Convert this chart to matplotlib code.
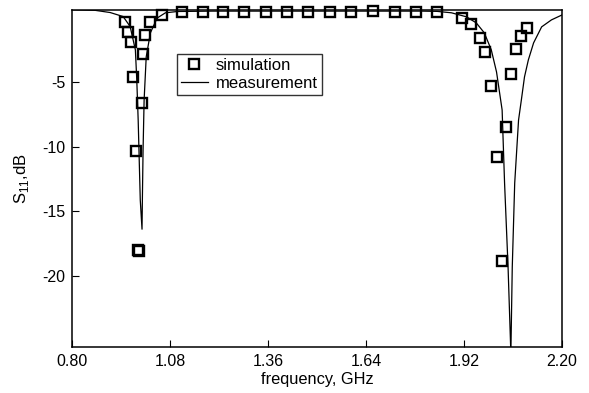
import numpy as np
import matplotlib
matplotlib.use("Agg")
import matplotlib.pyplot as plt

plt.rcParams['font.family'] = ['Liberation Sans', 'DejaVu Sans']

# simulation points (GHz, dB)
sim_freq = [0.951, 0.958, 0.968, 0.973, 0.982, 0.988, 0.990, 0.999, 1.003, 1.008, 1.021, 1.056,
            1.112, 1.172, 1.232, 1.292, 1.353, 1.413, 1.473, 1.537, 1.598, 1.660, 1.722, 1.783, 1.843,
            1.913, 1.939, 1.967, 1.981, 1.998, 2.015, 2.029, 2.041, 2.054, 2.070, 2.082, 2.099]
sim_db = [-0.31, -1.08, -1.86, -4.6, -10.33, -18.0, -18.1, -6.6, -2.81, -1.34, -0.31, 0.21,
          0.45, 0.45, 0.45, 0.45, 0.45, 0.45, 0.45, 0.45, 0.45, 0.5, 0.45, 0.45, 0.45,
          -0.04, -0.49, -1.55, -2.68, -5.27, -10.82, -18.86, -8.49, -4.36, -2.45, -1.42, -0.82]

# measurement curve (GHz, dB)
meas_freq = [0.80, 0.865, 0.908, 0.945, 0.965, 0.980, 0.984, 0.988, 0.994, 0.999,
             1.000, 1.002, 1.005, 1.011, 1.023, 1.042, 1.066, 1.100, 1.20, 1.40, 1.60, 1.80,
             1.843, 1.884, 1.927, 1.955, 1.978, 1.998, 2.013, 2.029, 2.036, 2.046, 2.054,
             2.058, 2.065, 2.076, 2.084, 2.093, 2.104, 2.119, 2.142, 2.170, 2.20]
meas_db = [0.6, 0.56, 0.39, 0.08, -0.69, -2.50, -4.83, -7.93, -14.13, -16.38,
           -14.13, -10.25, -6.38, -3.04, -1.18, -0.04, 0.37, 0.47, 0.5, 0.5, 0.5, 0.5,
           0.48, 0.37, 0.06, -0.41, -1.18, -2.50, -4.21, -7.15, -12.81, -19.32, -26.0,
           -19.32, -12.81, -7.93, -6.38, -4.59, -3.28, -1.96, -0.72, -0.18, 0.2]

xticks = [0.80, 1.08, 1.36, 1.64, 1.92, 2.20]
yticks = [-5, -10, -15, -20]

fig = plt.figure(figsize=(5.89, 3.93), dpi=100)
ax = fig.add_axes([0.123, 0.117, 0.831, 0.858])

ax.plot(meas_freq, meas_db, color='black', lw=0.9, label='measurement')
ax.plot(sim_freq, sim_db, ls='none', marker='s', ms=7.5, mfc='none', mec='black',
        mew=1.7, clip_on=False, label='simulation', zorder=3)

ax.set_xlim(0.80, 2.20)
ax.set_ylim(-25.5, 0.6)
ax.set_xticks(xticks)
ax.set_xticklabels([f'{t:.2f}' for t in xticks])
ax.set_yticks(yticks)
ax.set_yticklabels([str(t) for t in yticks])
ax.tick_params(direction='in', length=5, labelsize=11.5, top=False, right=False, pad=5)
for s in ax.spines.values():
    s.set_linewidth(1.1)

ax.set_xlabel('frequency, GHz', fontsize=11.8, labelpad=2)
ax.set_ylabel(r'S$_{\mathregular{11}}$,dB', fontsize=12, labelpad=8)

h, l = ax.get_legend_handles_labels()
leg = ax.legend(h[::-1], l[::-1], loc='upper left', bbox_to_anchor=(0.213, 0.869),
                borderaxespad=0, fontsize=12, frameon=True, fancybox=False,
                edgecolor='black', handlelength=1.6, borderpad=0.25, labelspacing=0.15,
                handletextpad=0.5)
leg.get_frame().set_linewidth(1.0)

fig.savefig('out.png', dpi=100)
